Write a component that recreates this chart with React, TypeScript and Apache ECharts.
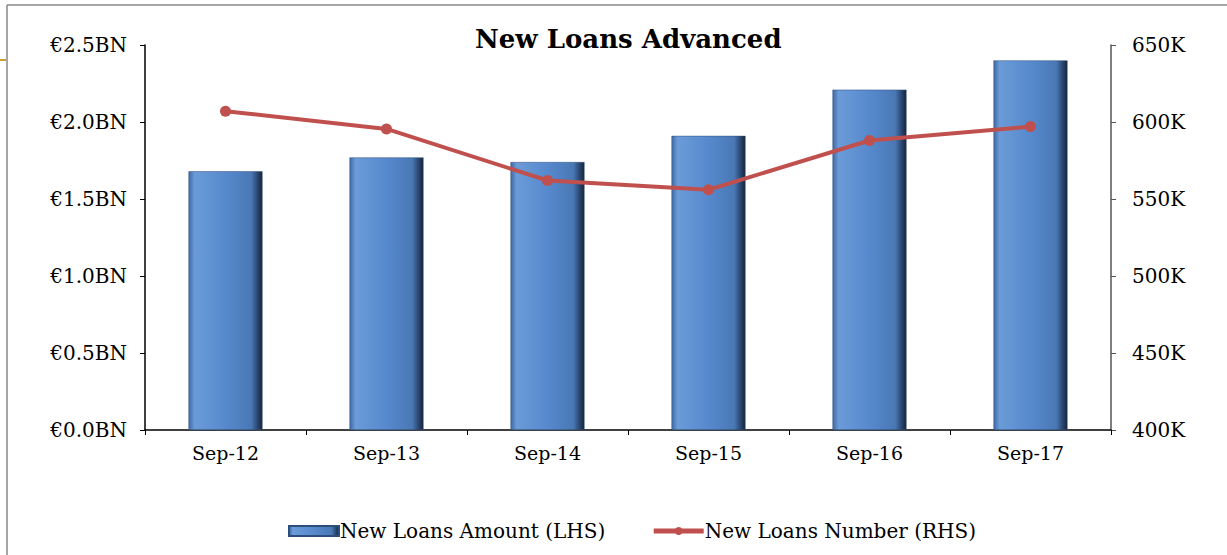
import React, { useEffect, useRef } from "react";
import * as echarts from "echarts";

const categories = ["Sep-12", "Sep-13", "Sep-14", "Sep-15", "Sep-16", "Sep-17"];
const loanAmountBn = [1.68, 1.77, 1.74, 1.91, 2.21, 2.4];
const loanNumberK = [607, 595.5, 562, 556, 588, 597];
const leftTicks = ["€0.0BN", "€0.5BN", "€1.0BN", "€1.5BN", "€2.0BN", "€2.5BN"];

const FONT = "'DejaVu Serif', 'Liberation Serif', serif";

export default function App() {
  const ref = useRef<HTMLDivElement>(null);
  useEffect(() => {
    if (!ref.current) return;
    const chart = echarts.init(ref.current, undefined, { renderer: "svg" });
    const barGrad = new echarts.graphic.LinearGradient(0, 0, 1, 0, [
      { offset: 0, color: "#3f6aa6" },
      { offset: 0.08, color: "#6b9bd8" },
      { offset: 0.5, color: "#5689cd" },
      { offset: 0.85, color: "#4a78b5" },
      { offset: 0.93, color: "#2c4a75" },
      { offset: 1, color: "#16253b" },
    ]);
    chart.setOption({
      animation: false,
      backgroundColor: "#ffffff",
      textStyle: { fontFamily: FONT },
      title: {
        text: "New Loans Advanced",
        left: 470,
        top: 21,
        textStyle: { fontFamily: FONT, fontSize: 26, fontWeight: "bold", color: "#000" },
      },
      graphic: [
        { type: "line", shape: { x1: 7, y1: 5, x2: 1227, y2: 5 }, style: { stroke: "#888", lineWidth: 1.5 } },
        { type: "line", shape: { x1: 7, y1: 5, x2: 7, y2: 555 }, style: { stroke: "#888", lineWidth: 1.5 } },
        { type: "line", shape: { x1: 0, y1: 60, x2: 6, y2: 60 }, style: { stroke: "#c8a030", lineWidth: 2 } },
      ],
      legend: {
        bottom: 9,
        left: 283,
        itemWidth: 50,
        itemHeight: 10,
        itemGap: 46,
        textStyle: { fontFamily: FONT, fontSize: 20, color: "#000", padding: [0, 0, 0, -4] },
        data: [
          { name: "New Loans Amount (LHS)", icon: "rect" },
          { name: "New Loans Number (RHS)", lineStyle: { width: 5 } },
        ],
      },
      grid: { left: 145, right: 116, top: 45, bottom: 125 },
      xAxis: {
        type: "category",
        data: categories,
        axisLine: { lineStyle: { color: "#000", width: 1.5 } },
        axisTick: { show: true, length: 5, lineStyle: { color: "#000" } },
        axisLabel: { fontFamily: FONT, fontSize: 19, color: "#000", margin: 13 },
      },
      yAxis: [
        {
          type: "value",
          min: 0,
          max: 2.5,
          interval: 0.5,
          splitLine: { show: false },
          axisLine: { show: true, lineStyle: { color: "#000", width: 1.5 } },
          axisTick: { show: true, length: 5, lineStyle: { color: "#000" } },
          axisLabel: {
            fontFamily: FONT,
            fontSize: 20,
            color: "#000",
            margin: 18,
            formatter: (v: number) => leftTicks[Math.round(v / 0.5)] ?? "",
          },
        },
        {
          type: "value",
          min: 400,
          max: 650,
          interval: 50,
          splitLine: { show: false },
          axisLine: { show: true, lineStyle: { color: "#555", width: 1.5 } },
          axisTick: { show: true, length: 5, lineStyle: { color: "#555" } },
          axisLabel: {
            fontFamily: FONT,
            fontSize: 20,
            color: "#000",
            margin: 21,
            formatter: (v: number) => `${v}K`,
          },
        },
      ],
      series: [
        {
          name: "New Loans Amount (LHS)",
          type: "bar",
          yAxisIndex: 0,
          data: loanAmountBn,
          barWidth: 74,
          itemStyle: { color: barGrad, borderColor: "#2e4e7a", borderWidth: 0.5 },
        },
        {
          name: "New Loans Number (RHS)",
          type: "line",
          yAxisIndex: 1,
          data: loanNumberK,
          symbol: "circle",
          symbolSize: 11,
          lineStyle: { color: "#c0504d", width: 4 },
          itemStyle: { color: "#c0504d" },
        },
      ],
    });
    return () => chart.dispose();
  }, []);
  return (
    <div
      ref={ref}
      style={{ position: "fixed", left: 0, top: 0, width: 1227, height: 555 }}
    />
  );
}
